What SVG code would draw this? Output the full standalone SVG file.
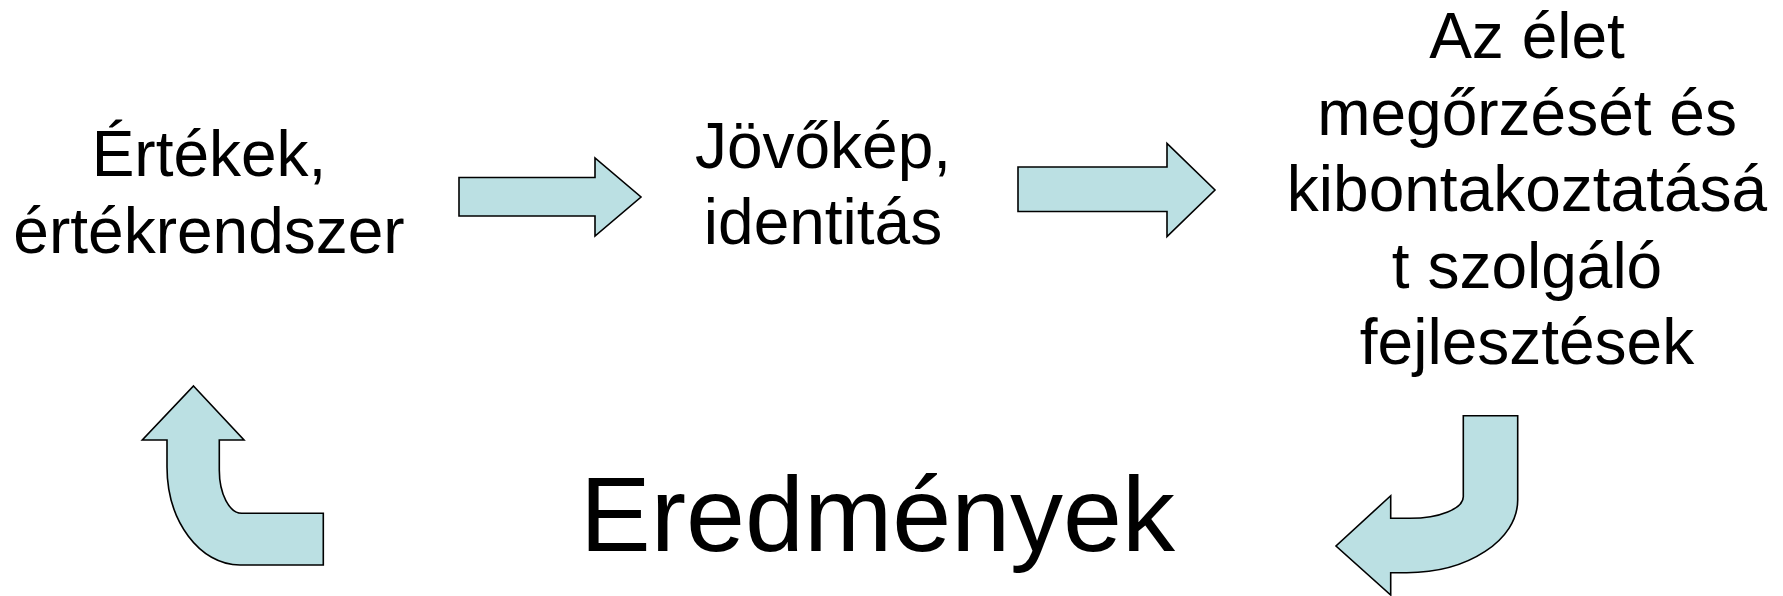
<svg xmlns="http://www.w3.org/2000/svg" width="1783" height="596" viewBox="0 0 1783 596">
<style>
.t{font-family:"Liberation Sans",Arial,sans-serif;font-size:64px;fill:#000;text-anchor:middle}
.big{font-family:"Liberation Sans",Arial,sans-serif;font-size:106px;fill:#000}
.arr{fill:#BBE0E3;stroke:#000;stroke-width:1.6;stroke-linejoin:miter}
</style>
<rect width="1783" height="596" fill="#fff"/>
<g id="node-ertekek">
<text class="t" x="209" y="176">Értékek,</text>
<text class="t" x="209" y="252.5">értékrendszer</text>
</g>
<g id="node-jovokep">
<text class="t" x="823" y="167.5">Jövőkép,</text>
<text class="t" x="823" y="243.5">identitás</text>
</g>
<g id="node-elet">
<text class="t" x="1527" y="58">Az élet</text>
<text class="t" x="1527" y="134.5">megőrzését és</text>
<text class="t" x="1527" y="211">kibontakoztatásá</text>
<text class="t" x="1527" y="287.5">t szolgáló</text>
<text class="t" x="1527" y="364">fejlesztések</text>
</g>
<g id="node-eredmenyek">
<text class="big" x="580" y="551">Eredmények</text>
</g>
<g id="connectors">
<path class="arr" d="M459,177.5 L595,177.5 L595,158 L641,197 L595,236 L595,216 L459,216 Z"/>
<path class="arr" d="M1018,167 L1167,167 L1167,143.5 L1215,190 L1167,236.5 L1167,211.5 L1018,211.5 Z"/>
<path class="arr" d="M193.5,386 L244,440 L219.3,440 L219.3,470 C219.3,494 229.4,513.3 241.7,513.3 L323.3,513.3 L323.3,565 L240,565 C199.7,565 167,521 167,467 L167,440 L142.3,440 Z"/>
<path class="arr" d="M1463.3,415.7 L1463.3,496.7 C1463.3,508.6 1439.4,518.3 1410,518.3 L1390.7,518.3 L1390.7,495.7 L1336,546 L1390.7,595 L1390.7,572.7 L1406.7,572.7 C1467.9,572.7 1517.7,540.2 1517.7,500 L1517.7,415.7 Z"/>
</g>
</svg>
